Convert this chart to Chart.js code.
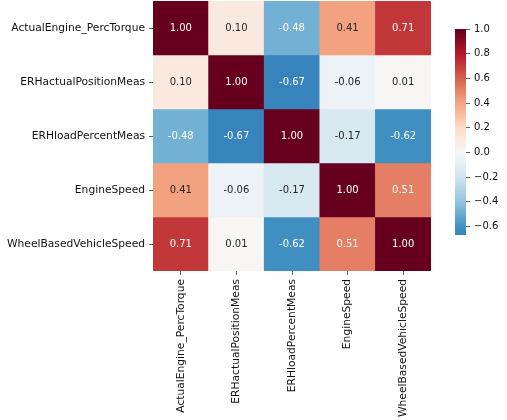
<!DOCTYPE html>
<html><head><meta charset="utf-8">
<script src="https://cdn.jsdelivr.net/npm/chart.js@4/dist/chart.umd.min.js"></script>
<style>
html,body{margin:0;padding:0;background:#fff;}
#wrap{position:relative;width:507px;height:420px;}
#main{position:absolute;left:0;top:0;}
#cbar{position:absolute;left:440px;top:0;}
</style></head>
<body><div id="wrap">
<canvas id="main" width="440" height="420"></canvas>
<canvas id="cbar" width="67" height="420"></canvas>
</div>
<script>
const variables = ["ActualEngine_PercTorque","ERHactualPositionMeas","ERHloadPercentMeas","EngineSpeed","WheelBasedVehicleSpeed"];
const row0 = [1.00, 0.10, -0.48, 0.41, 0.71];
const row1 = [0.10, 1.00, -0.67, -0.06, 0.01];
const row2 = [-0.48, -0.67, 1.00, -0.17, -0.62];
const row3 = [0.41, -0.06, -0.17, 1.00, 0.51];
const row4 = [0.71, 0.01, -0.62, 0.51, 1.00];
const matrix = [row0,row1,row2,row3,row4];
const cbarMin = -0.67, cbarMax = 1.0;
const cbarTicks = [-0.6,-0.4,-0.2,0.0,0.2,0.4,0.6,0.8,1.0];

// RdBu_r colormap stops
const RDBU_R = ["#053061","#2166ac","#4393c3","#92c5de","#d1e5f0","#f7f7f7","#fddbc7","#f4a582","#d6604d","#b2182b","#67001f"]
  .map(h=>[parseInt(h.slice(1,3),16),parseInt(h.slice(3,5),16),parseInt(h.slice(5,7),16)]);
function cmapRGB(v){ // centered at 0, range [-1,1]
  let t=(v+1)/2; t=Math.max(0,Math.min(1,t));
  const p=t*10, i=Math.min(9,Math.floor(p)), f=p-i;
  const a=RDBU_R[i], b=RDBU_R[i+1];
  return [0,1,2].map(k=>a[k]+(b[k]-a[k])*f);
}
function rgbStr(c){return `rgb(${c.map(Math.round).join(',')})`;}
function lum(c){
  const l=c.map(x=>{x/=255;return x<=0.03928?x/12.92:Math.pow((x+0.055)/1.055,2.4);});
  return 0.2126*l[0]+0.7152*l[1]+0.0722*l[2];
}
const FONT = {family:"'DejaVu Sans', sans-serif", size:10.7};
const CBFONT = {family:"'DejaVu Sans', sans-serif", size:10};

const annot = {
  id:'annot',
  afterDatasetsDraw(chart){
    const ctx=chart.ctx, xs=chart.scales.x, ys=chart.scales.y;
    ctx.save();
    ctx.font="10px 'DejaVu Sans', sans-serif";
    ctx.textAlign='center'; ctx.textBaseline='middle';
    matrix.forEach((row,r)=>row.forEach((v,c)=>{
      const col=cmapRGB(v);
      ctx.fillStyle = lum(col)>0.408 ? '#262626' : '#ffffff';
      ctx.fillText(v.toFixed(2), xs.getPixelForValue(c), ys.getPixelForValue(r+0.5));
    }));
    ctx.restore();
  }
};

new Chart(document.getElementById('main'),{
  type:'bar',
  data:{
    labels:variables,
    datasets:matrix.map((row,r)=>({
      label:variables[r],
      data:row.map(()=>1),
      backgroundColor:row.map(v=>rgbStr(cmapRGB(v))),
      borderWidth:0,
      barPercentage:1,
      categoryPercentage:1
    }))
  },
  options:{
    responsive:false, animation:false, devicePixelRatio:1,
    layout:{padding:{left:0,top:1,right:9,bottom:0}},
    plugins:{legend:{display:false},tooltip:{enabled:false}},
    scales:{
      x:{
        type:'category', stacked:true, offset:true,
        grid:{offset:false,drawOnChartArea:false,drawTicks:true,tickLength:4,color:'#333',lineWidth:0.8},
        border:{display:false},
        ticks:{autoSkip:false,maxRotation:90,minRotation:90,color:'#111',font:FONT,padding:4},
        afterFit(s){s.height=149;s.paddingLeft=0;s.paddingRight=0;}
      },
      y:{
        type:'linear', stacked:true, min:0, max:5, reverse:true,
        grid:{drawOnChartArea:false,drawTicks:true,tickLength:4,color:'#333',lineWidth:0.8},
        border:{display:false},
        afterBuildTicks(s){s.ticks=variables.map((_,i)=>({value:i+0.5}));},
        ticks:{color:'#111',font:FONT,padding:4,callback:(v)=>variables[Math.floor(v)]},
        afterFit(s){s.width=153;s.paddingTop=0;s.paddingBottom=0;}
      }
    }
  },
  plugins:[annot]
});

new Chart(document.getElementById('cbar'),{
  type:'bar',
  data:{
    labels:[''],
    datasets:[{
      data:[[cbarMin,cbarMax]],
      borderWidth:0, barPercentage:1, categoryPercentage:1,
      backgroundColor(ctx){
        const ca=ctx.chart.chartArea; if(!ca) return '#fff';
        const g=ctx.chart.ctx.createLinearGradient(0,ca.bottom,0,ca.top);
        const n=60;
        for(let i=0;i<=n;i++){
          const v=cbarMin+(cbarMax-cbarMin)*i/n;
          g.addColorStop(i/n,rgbStr(cmapRGB(v)));
        }
        return g;
      }
    }]
  },
  options:{
    responsive:false, animation:false, devicePixelRatio:1,
    layout:{padding:{left:15,top:29,right:0,bottom:185}},
    plugins:{legend:{display:false},tooltip:{enabled:false}},
    scales:{
      x:{type:'category',offset:true,display:false},
      y:{
        type:'linear', position:'right', min:cbarMin, max:cbarMax,
        grid:{drawOnChartArea:false,drawTicks:true,tickLength:4,color:'#333',lineWidth:0.8},
        border:{display:false},
        afterBuildTicks(s){s.ticks=cbarTicks.map(v=>({value:v}));},
        ticks:{color:'#111',font:CBFONT,padding:4,
          callback:(v)=>{const s=Math.abs(v)<1e-9?'0.0':v.toFixed(1);return s.replace('-','\u2212');}},
        afterFit(s){s.width=41;s.paddingTop=0;s.paddingBottom=0;}
      }
    }
  }
});
</script>
</body></html>
